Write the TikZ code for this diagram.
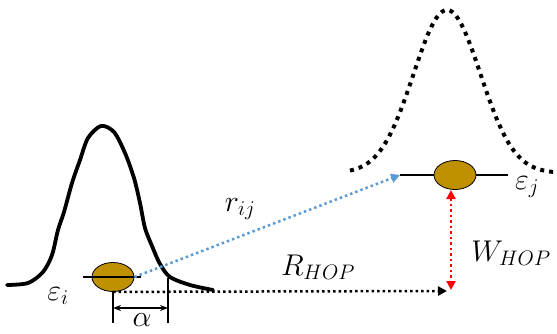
\RequirePackage{fix-cm}
\documentclass[tikz,border=0pt]{standalone}
\usetikzlibrary{arrows.meta, shapes.geometric}
\definecolor{sitegold}{RGB}{191,144,0}
\definecolor{bondblue}{RGB}{91,155,213}

\begin{document}
\begin{tikzpicture}[x=1pt, y=-1pt, font=\fontsize{30}{35}\selectfont,
  curve/.style={line width=3.8pt, line cap=round, line join=round},
  dotcurve/.style={line width=4pt, dash pattern=on 4pt off 5pt},
  level/.style={line width=2pt},
  site/.style={ellipse, draw, line width=0.8pt, fill=sitegold,
    minimum width=42pt, minimum height=29pt, inner sep=0pt},
  hop/.style={line width=2.5pt, dash pattern=on 2.5pt off 3pt,
    -{Triangle[length=9pt, width=9pt]}}]
  \useasboundingbox (0,0) rectangle (557,334);
  % wave functions
  \draw[curve] plot[smooth] coordinates {(7,285) (28,283) (43,272) (52,255)
    (58,230) (64,212) (72,183) (80,160) (88,138) (101,126) (114,132)
    (125,153) (134,178) (140,203) (145,228) (152,246) (160,264) (170,277)
    (190,285) (213,290)};
  \draw[dotcurve] plot[domain=350:560, samples=120]
    (\x, {173-163*exp(-((\x-447)^2)/2244)});
  % sites and levels
  \coordinate (li1) at (83,277);
  \coordinate (li2) at (141,277);
  \coordinate (lj1) at (400,175);
  \coordinate (lj2) at (508,175);
  \node[site] (ei) at (113,277) {};
  \draw[level] (li1) -- (li2);
  \draw[level] (lj1) -- (lj2);
  \node[site] (ej) at (455,175) {};
  % hopping distances
  \coordinate (hopend) at (447,291);
  \coordinate (wtop) at (451,190);
  \coordinate (wbot) at (451,290);
  \draw[hop, bondblue] (ei.east) -- (lj1);
  \draw[hop] (ei.south) -- (hopend);
  \draw[hop, red, {Triangle[length=9pt, width=9pt]}-{Triangle[length=9pt, width=9pt]}]
    (wtop) -- (wbot);
  % localisation length
  \coordinate (a1) at (113,323);
  \coordinate (b0) at (168,278);
  \coordinate (b1) at (168,323);
  \coordinate (al) at (113,308);
  \coordinate (ar) at (168,308);
  \draw[level] (ei.south) -- (a1);
  \draw[level] (b0) -- (b1);
  \draw[level, {Stealth[length=8pt]}-{Stealth[length=8pt]}] (al) -- (ar);
  % labels
  \node (epsi) at (58,296) {$\varepsilon_i$};
  \node (epsj) at (527,187) {$\varepsilon_j$};
  \node (rij) at (240,209) {$r_{ij}$};
  \node (rhop) at (318,267) {$R_{HOP}$};
  \node (whop) at (511,253) {$W_{HOP}$};
  \node (alpha) at (142,320) {$\alpha$};
\end{tikzpicture}
\end{document}
